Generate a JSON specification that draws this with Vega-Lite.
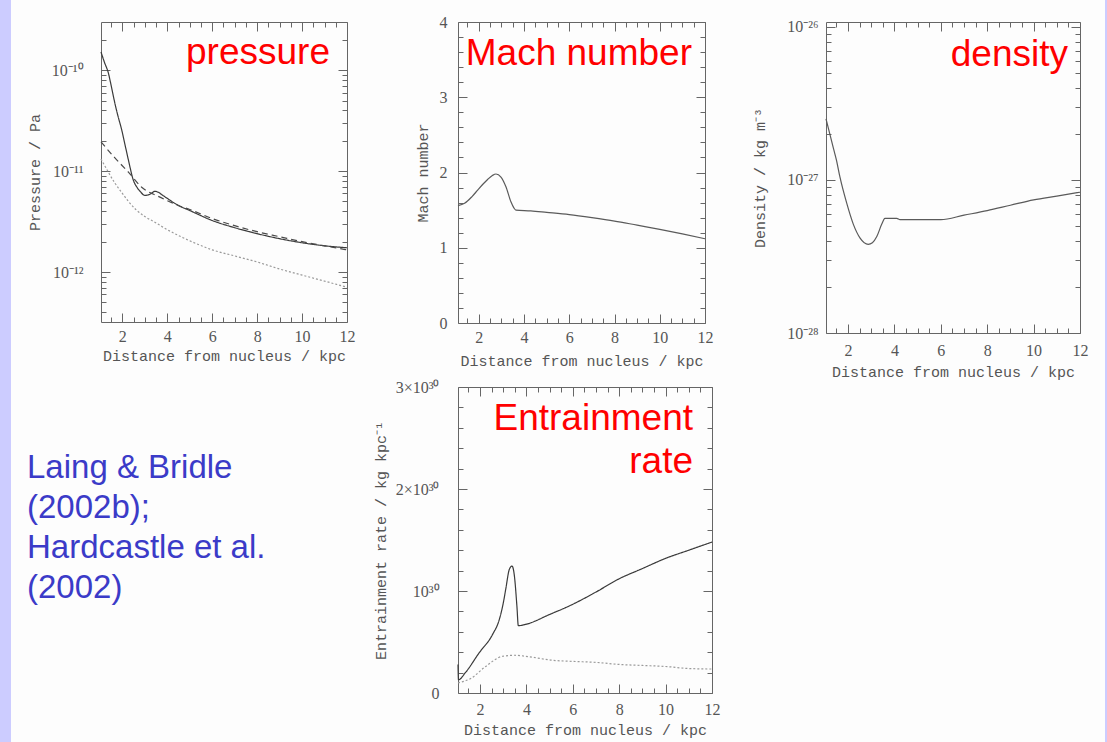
{
  "$schema": "https://vega.github.io/schema/vega-lite/v6.json",
  "padding": 0,
  "background": "#fdfdfd",
  "columns": 10,
  "spacing": 0,
  "bounds": "flush",
  "align": "each",
  "config": {
    "view": {"stroke": null},
    "concat": {"spacing": 0},
    "axis": {
      "grid": false,
      "domainColor": "#666666",
      "tickColor": "#666666",
      "domainWidth": 1,
      "tickWidth": 1,
      "labelFont": "Liberation Serif",
      "labelFontSize": 16,
      "labelColor": "#555555",
      "labelFlush": false,
      "labelOverlap": false,
      "titleFont": "Liberation Mono",
      "titleFontSize": 15,
      "titleFontWeight": "normal",
      "titleColor": "#555555"
    }
  },
  "concat": [
    {"width": 11, "height": 22, "view": {"fill": "#ccccff", "stroke": null}, "data": {"values": []}, "mark": "text"},
    {"width": 16, "height": 1, "data": {"values": []}, "mark": "text"},
    {"width": 74, "height": 1, "data": {"values": []}, "mark": "text"},
    {"width": 246, "height": 1, "data": {"values": []}, "mark": "text"},
    {"width": 111, "height": 1, "data": {"values": []}, "mark": "text"},
    {"width": 254, "height": 1, "data": {"values": []}, "mark": "text"},
    {"width": 114, "height": 1, "data": {"values": []}, "mark": "text"},
    {"width": 254, "height": 1, "data": {"values": []}, "mark": "text"},
    {"width": 25, "height": 1, "data": {"values": []}, "mark": "text"},
    {"width": 2, "height": 22, "view": {"fill": "#ccccff", "stroke": null}, "data": {"values": []}, "mark": "text"},

    {"width": 11, "height": 311, "view": {"fill": "#ccccff", "stroke": null}, "data": {"values": []}, "mark": "text"},
    {"width": 1, "height": 1, "data": {"values": []}, "mark": "text"},
    {"width": 1, "height": 1, "data": {"values": []}, "mark": "text"},
    {
      "width": 246,
      "height": 300,
      "title": {"text": "pressure", "anchor": "end", "frame": "group", "offset": -79, "dx": -17, "font": "Liberation Sans", "fontSize": 37, "fontWeight": "normal", "color": "#ff0000", "baseline": "alphabetic"},
      "data": {"values": [
        {"x": 1.05, "p": 1.514e-10, "s": "solid"},
        {"x": 1.2, "p": 1.202e-10, "s": "solid"},
        {"x": 1.38, "p": 9.33e-11, "s": "solid"},
        {"x": 1.5, "p": 7.08e-11, "s": "solid"},
        {"x": 1.67, "p": 4.68e-11, "s": "solid"},
        {"x": 1.8, "p": 3.55e-11, "s": "solid"},
        {"x": 1.97, "p": 2.57e-11, "s": "solid"},
        {"x": 2.1, "p": 1.905e-11, "s": "solid"},
        {"x": 2.27, "p": 1.288e-11, "s": "solid"},
        {"x": 2.49, "p": 8.13e-12, "s": "solid"},
        {"x": 2.65, "p": 6.92e-12, "s": "solid"},
        {"x": 2.79, "p": 6.31e-12, "s": "solid"},
        {"x": 3.0, "p": 5.75e-12, "s": "solid"},
        {"x": 3.23, "p": 5.89e-12, "s": "solid"},
        {"x": 3.45, "p": 6.31e-12, "s": "solid"},
        {"x": 3.6, "p": 6.17e-12, "s": "solid"},
        {"x": 3.8, "p": 5.75e-12, "s": "solid"},
        {"x": 4.0, "p": 5.37e-12, "s": "solid"},
        {"x": 4.49, "p": 4.57e-12, "s": "solid"},
        {"x": 5, "p": 4.07e-12, "s": "solid"},
        {"x": 6, "p": 3.24e-12, "s": "solid"},
        {"x": 7, "p": 2.75e-12, "s": "solid"},
        {"x": 8, "p": 2.40e-12, "s": "solid"},
        {"x": 9, "p": 2.14e-12, "s": "solid"},
        {"x": 10, "p": 1.95e-12, "s": "solid"},
        {"x": 11, "p": 1.82e-12, "s": "solid"},
        {"x": 12, "p": 1.74e-12, "s": "solid"},
        {"x": 1.05, "p": 1.95e-11, "s": "dashed"},
        {"x": 1.67, "p": 1.35e-11, "s": "dashed"},
        {"x": 2.27, "p": 9.77e-12, "s": "dashed"},
        {"x": 2.86, "p": 6.92e-12, "s": "dashed"},
        {"x": 3.6, "p": 5.62e-12, "s": "dashed"},
        {"x": 4.5, "p": 4.57e-12, "s": "dashed"},
        {"x": 5, "p": 4.17e-12, "s": "dashed"},
        {"x": 6, "p": 3.39e-12, "s": "dashed"},
        {"x": 7, "p": 2.88e-12, "s": "dashed"},
        {"x": 8, "p": 2.51e-12, "s": "dashed"},
        {"x": 9, "p": 2.24e-12, "s": "dashed"},
        {"x": 10, "p": 2.0e-12, "s": "dashed"},
        {"x": 11, "p": 1.82e-12, "s": "dashed"},
        {"x": 12, "p": 1.66e-12, "s": "dashed"},
        {"x": 1.05, "p": 1.318e-11, "s": "dotted"},
        {"x": 1.3, "p": 1.047e-11, "s": "dotted"},
        {"x": 1.67, "p": 7.59e-12, "s": "dotted"},
        {"x": 2.0, "p": 6.03e-12, "s": "dotted"},
        {"x": 2.27, "p": 5.01e-12, "s": "dotted"},
        {"x": 2.6, "p": 4.17e-12, "s": "dotted"},
        {"x": 3.0, "p": 3.55e-12, "s": "dotted"},
        {"x": 3.4, "p": 3.16e-12, "s": "dotted"},
        {"x": 4.0, "p": 2.63e-12, "s": "dotted"},
        {"x": 4.7, "p": 2.19e-12, "s": "dotted"},
        {"x": 5, "p": 2.04e-12, "s": "dotted"},
        {"x": 6, "p": 1.66e-12, "s": "dotted"},
        {"x": 7, "p": 1.445e-12, "s": "dotted"},
        {"x": 8, "p": 1.259e-12, "s": "dotted"},
        {"x": 9, "p": 1.072e-12, "s": "dotted"},
        {"x": 10, "p": 9.33e-13, "s": "dotted"},
        {"x": 11, "p": 8.13e-13, "s": "dotted"},
        {"x": 12, "p": 7.08e-13, "s": "dotted"}
      ]},
      "layer": [
        {
          "mark": {"type": "line", "interpolate": "monotone", "strokeWidth": 1.2},
          "encoding": {
            "x": {"field": "x", "type": "quantitative", "scale": {"domain": [1.05, 12], "nice": false, "zero": false},
              "axis": {"orient": "bottom", "values": [1.5, 2, 2.5, 3, 3.5, 4, 4.5, 5, 5.5, 6, 6.5, 7, 7.5, 8, 8.5, 9, 9.5, 10, 10.5, 11, 11.5, 12], "labelExpr": "datum.value % 2 === 0 ? '' + datum.value : ''", "tickSize": {"condition": {"test": "datum.value % 2 === 0", "value": -9}, "value": -5}, "labelPadding": 15, "title": "Distance from nucleus / kpc", "titlePadding": 0}},
            "y": {"field": "p", "type": "quantitative", "scale": {"type": "log", "domain": [3.2e-13, 3e-10], "nice": false},
              "axis": {"orient": "left", "values": [4e-13, 5e-13, 6e-13, 7e-13, 8e-13, 9e-13, 1e-12, 2e-12, 3e-12, 4e-12, 5e-12, 6e-12, 7e-12, 8e-12, 9e-12, 1e-11, 2e-11, 3e-11, 4e-11, 5e-11, 6e-11, 7e-11, 8e-11, 9e-11, 1e-10, 2e-10], "labelExpr": "datum.value === 1e-10 ? '10⁻¹⁰' : datum.value === 1e-11 ? '10⁻¹¹' : datum.value === 1e-12 ? '10⁻¹²' : ''", "tickSize": {"condition": {"test": "datum.value === 1e-10 || datum.value === 1e-11 || datum.value === 1e-12", "value": -9}, "value": -5}, "labelPadding": 27, "title": "Pressure / Pa", "titlePadding": 9}},
            "color": {"field": "s", "type": "nominal", "scale": {"domain": ["solid", "dashed", "dotted"], "range": ["#3a3a3a", "#4a4a4a", "#9a9a9a"]}, "legend": null},
            "strokeDash": {"field": "s", "type": "nominal", "scale": {"domain": ["solid", "dashed", "dotted"], "range": [[1, 0], [6, 4], [2, 2]]}, "legend": null}
          }
        },
        {
          "mark": {"type": "point", "opacity": 0},
          "encoding": {
            "x": {"field": "x", "type": "quantitative", "axis": {"orient": "top", "values": [1.5, 2, 2.5, 3, 3.5, 4, 4.5, 5, 5.5, 6, 6.5, 7, 7.5, 8, 8.5, 9, 9.5, 10, 10.5, 11, 11.5, 12], "labels": false, "title": null, "tickSize": {"condition": {"test": "datum.value % 2 === 0", "value": -9}, "value": -5}}},
            "y": {"field": "p", "type": "quantitative", "axis": {"orient": "right", "values": [4e-13, 5e-13, 6e-13, 7e-13, 8e-13, 9e-13, 1e-12, 2e-12, 3e-12, 4e-12, 5e-12, 6e-12, 7e-12, 8e-12, 9e-12, 1e-11, 2e-11, 3e-11, 4e-11, 5e-11, 6e-11, 7e-11, 8e-11, 9e-11, 1e-10, 2e-10], "labels": false, "title": null, "tickSize": {"condition": {"test": "datum.value === 1e-10 || datum.value === 1e-11 || datum.value === 1e-12", "value": -9}, "value": -5}}}
          }
        }
      ],
      "resolve": {"axis": {"x": "independent", "y": "independent"}}
    },
    {"width": 1, "height": 1, "data": {"values": []}, "mark": "text"},
    {
      "width": 247,
      "height": 301,
      "title": {"text": "Mach number", "anchor": "end", "frame": "group", "offset": -88, "dx": -13, "font": "Liberation Sans", "fontSize": 37, "fontWeight": "normal", "color": "#ff0000", "baseline": "alphabetic"},
      "data": {"values": [
        {"x": 1.08, "m": 1.56}, {"x": 1.37, "m": 1.59}, {"x": 1.7, "m": 1.68}, {"x": 1.96, "m": 1.77},
        {"x": 2.2, "m": 1.85}, {"x": 2.4, "m": 1.91}, {"x": 2.6, "m": 1.96}, {"x": 2.76, "m": 1.98},
        {"x": 2.98, "m": 1.94}, {"x": 3.2, "m": 1.81}, {"x": 3.42, "m": 1.61}, {"x": 3.55, "m": 1.53},
        {"x": 3.64, "m": 1.5}, {"x": 4.3, "m": 1.49}, {"x": 5, "m": 1.47}, {"x": 6, "m": 1.44},
        {"x": 7, "m": 1.4}, {"x": 8, "m": 1.355}, {"x": 9, "m": 1.3}, {"x": 10, "m": 1.245},
        {"x": 11, "m": 1.185}, {"x": 12, "m": 1.12}
      ]},
      "layer": [
        {
          "mark": {"type": "line", "interpolate": "monotone", "strokeWidth": 1.2, "color": "#5a5a5a"},
          "encoding": {
            "x": {"field": "x", "type": "quantitative", "scale": {"domain": [1.08, 12], "nice": false, "zero": false},
              "axis": {"orient": "bottom", "values": [1.5, 2, 2.5, 3, 3.5, 4, 4.5, 5, 5.5, 6, 6.5, 7, 7.5, 8, 8.5, 9, 9.5, 10, 10.5, 11, 11.5, 12], "labelExpr": "datum.value % 2 === 0 ? '' + datum.value : ''", "tickSize": {"condition": {"test": "datum.value % 2 === 0", "value": -9}, "value": -5}, "labelPadding": 15, "title": "Distance from nucleus / kpc", "titlePadding": 4}},
            "y": {"field": "m", "type": "quantitative", "scale": {"domain": [0, 4], "nice": false},
              "axis": {"orient": "left", "values": [0, 0.2, 0.4, 0.6, 0.8, 1, 1.2, 1.4, 1.6, 1.8, 2, 2.2, 2.4, 2.6, 2.8, 3, 3.2, 3.4, 3.6, 3.8, 4], "labelExpr": "datum.value % 1 === 0 ? '' + datum.value : ''", "tickSize": {"condition": {"test": "datum.value % 1 === 0", "value": -9}, "value": -5}, "labelPadding": 20, "title": "Mach number", "titlePadding": 9}}
          }
        },
        {
          "mark": {"type": "point", "opacity": 0},
          "encoding": {
            "x": {"field": "x", "type": "quantitative", "axis": {"orient": "top", "values": [1.5, 2, 2.5, 3, 3.5, 4, 4.5, 5, 5.5, 6, 6.5, 7, 7.5, 8, 8.5, 9, 9.5, 10, 10.5, 11, 11.5, 12], "labels": false, "title": null, "tickSize": {"condition": {"test": "datum.value % 2 === 0", "value": -9}, "value": -5}}},
            "y": {"field": "m", "type": "quantitative", "axis": {"orient": "right", "values": [0, 0.2, 0.4, 0.6, 0.8, 1, 1.2, 1.4, 1.6, 1.8, 2, 2.2, 2.4, 2.6, 2.8, 3, 3.2, 3.4, 3.6, 3.8, 4], "labels": false, "title": null, "tickSize": {"condition": {"test": "datum.value % 1 === 0", "value": -9}, "value": -5}}}
          }
        }
      ],
      "resolve": {"axis": {"x": "independent", "y": "independent"}}
    },
    {"width": 1, "height": 1, "data": {"values": []}, "mark": "text"},
    {
      "width": 254,
      "height": 311,
      "title": {"text": "density", "anchor": "end", "frame": "group", "offset": -84, "dx": -12, "font": "Liberation Sans", "fontSize": 37, "fontWeight": "normal", "color": "#ff0000", "baseline": "alphabetic"},
      "data": {"values": [
        {"x": 1.05, "d": 2.51e-27}, {"x": 1.2, "d": 2.04e-27}, {"x": 1.365, "d": 1.62e-27}, {"x": 1.5, "d": 1.35e-27},
        {"x": 1.65, "d": 1.047e-27}, {"x": 1.94, "d": 7.08e-28}, {"x": 2.23, "d": 5.13e-28}, {"x": 2.52, "d": 4.17e-28},
        {"x": 2.87, "d": 3.80e-28}, {"x": 3.05, "d": 3.89e-28}, {"x": 3.24, "d": 4.27e-28}, {"x": 3.45, "d": 5.13e-28},
        {"x": 3.59, "d": 5.62e-28}, {"x": 4.1, "d": 5.62e-28}, {"x": 4.24, "d": 5.50e-28}, {"x": 5, "d": 5.50e-28},
        {"x": 6, "d": 5.50e-28}, {"x": 7, "d": 5.89e-28}, {"x": 8, "d": 6.31e-28}, {"x": 9, "d": 6.84e-28},
        {"x": 10, "d": 7.41e-28}, {"x": 11, "d": 7.85e-28}, {"x": 12, "d": 8.32e-28}
      ]},
      "layer": [
        {
          "mark": {"type": "line", "interpolate": "monotone", "strokeWidth": 1.2, "color": "#5a5a5a"},
          "encoding": {
            "x": {"field": "x", "type": "quantitative", "scale": {"domain": [1.05, 12], "nice": false, "zero": false},
              "axis": {"orient": "bottom", "values": [1.5, 2, 2.5, 3, 3.5, 4, 4.5, 5, 5.5, 6, 6.5, 7, 7.5, 8, 8.5, 9, 9.5, 10, 10.5, 11, 11.5, 12], "labelExpr": "datum.value % 2 === 0 ? '' + datum.value : ''", "tickSize": {"condition": {"test": "datum.value % 2 === 0", "value": -9}, "value": -5}, "labelPadding": 18, "title": "Distance from nucleus / kpc", "titlePadding": 2}},
            "y": {"field": "d", "type": "quantitative", "scale": {"type": "log", "domain": [1e-28, 1.078e-26], "nice": false},
              "axis": {"orient": "left", "values": [1e-28, 2e-28, 3e-28, 4e-28, 5e-28, 6e-28, 7e-28, 8e-28, 9e-28, 1e-27, 2e-27, 3e-27, 4e-27, 5e-27, 6e-27, 7e-27, 8e-27, 9e-27, 1e-26], "labelExpr": "datum.value === 1e-26 ? '10⁻²⁶' : datum.value === 1e-27 ? '10⁻²⁷' : datum.value === 1e-28 ? '10⁻²⁸' : ''", "tickSize": {"condition": {"test": "datum.value === 1e-26 || datum.value === 1e-27 || datum.value === 1e-28", "value": -9}, "value": -5}, "labelPadding": 17, "title": "Density / kg m⁻³", "titlePadding": 19}}
          }
        },
        {
          "mark": {"type": "point", "opacity": 0},
          "encoding": {
            "x": {"field": "x", "type": "quantitative", "axis": {"orient": "top", "values": [1.5, 2, 2.5, 3, 3.5, 4, 4.5, 5, 5.5, 6, 6.5, 7, 7.5, 8, 8.5, 9, 9.5, 10, 10.5, 11, 11.5, 12], "labels": false, "title": null, "tickSize": {"condition": {"test": "datum.value % 2 === 0", "value": -9}, "value": -5}}},
            "y": {"field": "d", "type": "quantitative", "axis": {"orient": "right", "values": [1e-28, 2e-28, 3e-28, 4e-28, 5e-28, 6e-28, 7e-28, 8e-28, 9e-28, 1e-27, 2e-27, 3e-27, 4e-27, 5e-27, 6e-27, 7e-27, 8e-27, 9e-27, 1e-26], "labels": false, "title": null, "tickSize": {"condition": {"test": "datum.value === 1e-26 || datum.value === 1e-27 || datum.value === 1e-28", "value": -9}, "value": -5}}}
          }
        }
      ],
      "resolve": {"axis": {"x": "independent", "y": "independent"}}
    },
    {"width": 1, "height": 1, "data": {"values": []}, "mark": "text"},
    {"width": 2, "height": 311, "view": {"fill": "#ccccff", "stroke": null}, "data": {"values": []}, "mark": "text"},

    {"width": 11, "height": 54, "view": {"fill": "#ccccff", "stroke": null}, "data": {"values": []}, "mark": "text"},
    {"width": 1, "height": 1, "data": {"values": []}, "mark": "text"},
    {"width": 1, "height": 1, "data": {"values": []}, "mark": "text"},
    {"width": 1, "height": 1, "data": {"values": []}, "mark": "text"},
    {"width": 1, "height": 1, "data": {"values": []}, "mark": "text"},
    {"width": 1, "height": 1, "data": {"values": []}, "mark": "text"},
    {"width": 1, "height": 1, "data": {"values": []}, "mark": "text"},
    {"width": 1, "height": 1, "data": {"values": []}, "mark": "text"},
    {"width": 1, "height": 1, "data": {"values": []}, "mark": "text"},
    {"width": 2, "height": 54, "view": {"fill": "#ccccff", "stroke": null}, "data": {"values": []}, "mark": "text"},

    {"width": 11, "height": 306, "view": {"fill": "#ccccff", "stroke": null}, "data": {"values": []}, "mark": "text"},
    {"width": 1, "height": 1, "data": {"values": []}, "mark": "text"},
    {
      "width": 74,
      "height": 210,
      "data": {"values": []},
      "mark": "text",
      "title": {"text": ["Laing & Bridle", "(2002b);", "Hardcastle et al.", "(2002)"], "anchor": "start", "frame": "group", "offset": -244, "font": "Liberation Sans", "fontSize": 33, "fontWeight": "normal", "color": "#3b3bc8", "lineHeight": 40, "baseline": "alphabetic"}
    },
    {"width": 1, "height": 1, "data": {"values": []}, "mark": "text"},
    {"width": 1, "height": 1, "data": {"values": []}, "mark": "text"},
    {
      "width": 254,
      "height": 306,
      "title": {"text": ["Entrainment", "rate"], "anchor": "end", "frame": "group", "offset": -131, "dx": -19, "font": "Liberation Sans", "fontSize": 37, "fontWeight": "normal", "color": "#ff0000", "baseline": "alphabetic", "lineHeight": 43},
      "data": {"values": [
        {"x": 1.05, "e": 2.8e29, "s": "solid"},
        {"x": 1.07, "e": 1.3e29, "s": "solid"},
        {"x": 1.37, "e": 2.0e29, "s": "solid"},
        {"x": 1.95, "e": 3.9e29, "s": "solid"},
        {"x": 2.53, "e": 5.7e29, "s": "solid"},
        {"x": 2.83, "e": 7.2e29, "s": "solid"},
        {"x": 3.0, "e": 8.8e29, "s": "solid"},
        {"x": 3.11, "e": 1.02e30, "s": "solid"},
        {"x": 3.26, "e": 1.21e30, "s": "solid"},
        {"x": 3.38, "e": 1.245e30, "s": "solid"},
        {"x": 3.48, "e": 1.15e30, "s": "solid"},
        {"x": 3.59, "e": 8.5e29, "s": "solid"},
        {"x": 3.65, "e": 6.6e29, "s": "solid"},
        {"x": 3.92, "e": 6.7e29, "s": "solid"},
        {"x": 5, "e": 7.7e29, "s": "solid"},
        {"x": 6, "e": 8.7e29, "s": "solid"},
        {"x": 7, "e": 9.9e29, "s": "solid"},
        {"x": 8, "e": 1.12e30, "s": "solid"},
        {"x": 9, "e": 1.22e30, "s": "solid"},
        {"x": 10, "e": 1.32e30, "s": "solid"},
        {"x": 11, "e": 1.4e30, "s": "solid"},
        {"x": 12, "e": 1.48e30, "s": "solid"},
        {"x": 1.05, "e": 1.0e29, "s": "dotted"},
        {"x": 1.58, "e": 1.4e29, "s": "dotted"},
        {"x": 2.24, "e": 2.6e29, "s": "dotted"},
        {"x": 2.97, "e": 3.6e29, "s": "dotted"},
        {"x": 3.5, "e": 3.7e29, "s": "dotted"},
        {"x": 4.13, "e": 3.55e29, "s": "dotted"},
        {"x": 5.15, "e": 3.2e29, "s": "dotted"},
        {"x": 6, "e": 3.1e29, "s": "dotted"},
        {"x": 7, "e": 3.0e29, "s": "dotted"},
        {"x": 8, "e": 2.8e29, "s": "dotted"},
        {"x": 9, "e": 2.7e29, "s": "dotted"},
        {"x": 10, "e": 2.6e29, "s": "dotted"},
        {"x": 11, "e": 2.4e29, "s": "dotted"},
        {"x": 12, "e": 2.35e29, "s": "dotted"}
      ]},
      "layer": [
        {
          "mark": {"type": "line", "interpolate": "monotone", "strokeWidth": 1.2},
          "encoding": {
            "x": {"field": "x", "type": "quantitative", "scale": {"domain": [1.05, 12], "nice": false, "zero": false},
              "axis": {"orient": "bottom", "values": [1.5, 2, 2.5, 3, 3.5, 4, 4.5, 5, 5.5, 6, 6.5, 7, 7.5, 8, 8.5, 9, 9.5, 10, 10.5, 11, 11.5, 12], "labelExpr": "datum.value % 2 === 0 ? '' + datum.value : ''", "tickSize": {"condition": {"test": "datum.value % 2 === 0", "value": -9}, "value": -5}, "labelPadding": 17, "title": "Distance from nucleus / kpc", "titlePadding": 1}},
            "y": {"field": "e", "type": "quantitative", "scale": {"domain": [0, 3e30], "nice": false},
              "axis": {"orient": "left", "values": [0, 2e29, 4e29, 6e29, 8e29, 1e30, 1.2e30, 1.4e30, 1.6e30, 1.8e30, 2e30, 2.2e30, 2.4e30, 2.6e30, 2.8e30, 3e30], "labelExpr": "datum.value === 0 ? '0' : datum.value === 1e30 ? '10³⁰' : datum.value === 2e30 ? '2×10³⁰' : datum.value === 3e30 ? '3×10³⁰' : ''", "tickSize": {"condition": {"test": "datum.value === 0 || datum.value === 1e30 || datum.value === 2e30 || datum.value === 3e30", "value": -9}, "value": -5}, "labelPadding": 28, "title": "Entrainment rate / kg kpc⁻¹", "titlePadding": 7}},
            "color": {"field": "s", "type": "nominal", "scale": {"domain": ["solid", "dotted"], "range": ["#3a3a3a", "#8a8a8a"]}, "legend": null},
            "strokeDash": {"field": "s", "type": "nominal", "scale": {"domain": ["solid", "dotted"], "range": [[1, 0], [2, 2]]}, "legend": null}
          }
        },
        {
          "mark": {"type": "point", "opacity": 0},
          "encoding": {
            "x": {"field": "x", "type": "quantitative", "axis": {"orient": "top", "values": [1.5, 2, 2.5, 3, 3.5, 4, 4.5, 5, 5.5, 6, 6.5, 7, 7.5, 8, 8.5, 9, 9.5, 10, 10.5, 11, 11.5, 12], "labels": false, "title": null, "tickSize": {"condition": {"test": "datum.value % 2 === 0", "value": -9}, "value": -5}}},
            "y": {"field": "e", "type": "quantitative", "axis": {"orient": "right", "values": [0, 2e29, 4e29, 6e29, 8e29, 1e30, 1.2e30, 1.4e30, 1.6e30, 1.8e30, 2e30, 2.2e30, 2.4e30, 2.6e30, 2.8e30, 3e30], "labels": false, "title": null, "tickSize": {"condition": {"test": "datum.value === 0 || datum.value === 1e30 || datum.value === 2e30 || datum.value === 3e30", "value": -9}, "value": -5}}}
          }
        }
      ],
      "resolve": {"axis": {"x": "independent", "y": "independent"}}
    },
    {"width": 1, "height": 1, "data": {"values": []}, "mark": "text"},
    {"width": 1, "height": 1, "data": {"values": []}, "mark": "text"},
    {"width": 1, "height": 1, "data": {"values": []}, "mark": "text"},
    {"width": 2, "height": 306, "view": {"fill": "#ccccff", "stroke": null}, "data": {"values": []}, "mark": "text"},

    {"width": 11, "height": 49, "view": {"fill": "#ccccff", "stroke": null}, "data": {"values": []}, "mark": "text"},
    {"width": 1, "height": 1, "data": {"values": []}, "mark": "text"},
    {"width": 1, "height": 1, "data": {"values": []}, "mark": "text"},
    {"width": 1, "height": 1, "data": {"values": []}, "mark": "text"},
    {"width": 1, "height": 1, "data": {"values": []}, "mark": "text"},
    {"width": 1, "height": 1, "data": {"values": []}, "mark": "text"},
    {"width": 1, "height": 1, "data": {"values": []}, "mark": "text"},
    {"width": 1, "height": 1, "data": {"values": []}, "mark": "text"},
    {"width": 1, "height": 1, "data": {"values": []}, "mark": "text"},
    {"width": 2, "height": 49, "view": {"fill": "#ccccff", "stroke": null}, "data": {"values": []}, "mark": "text"}
  ]
}
